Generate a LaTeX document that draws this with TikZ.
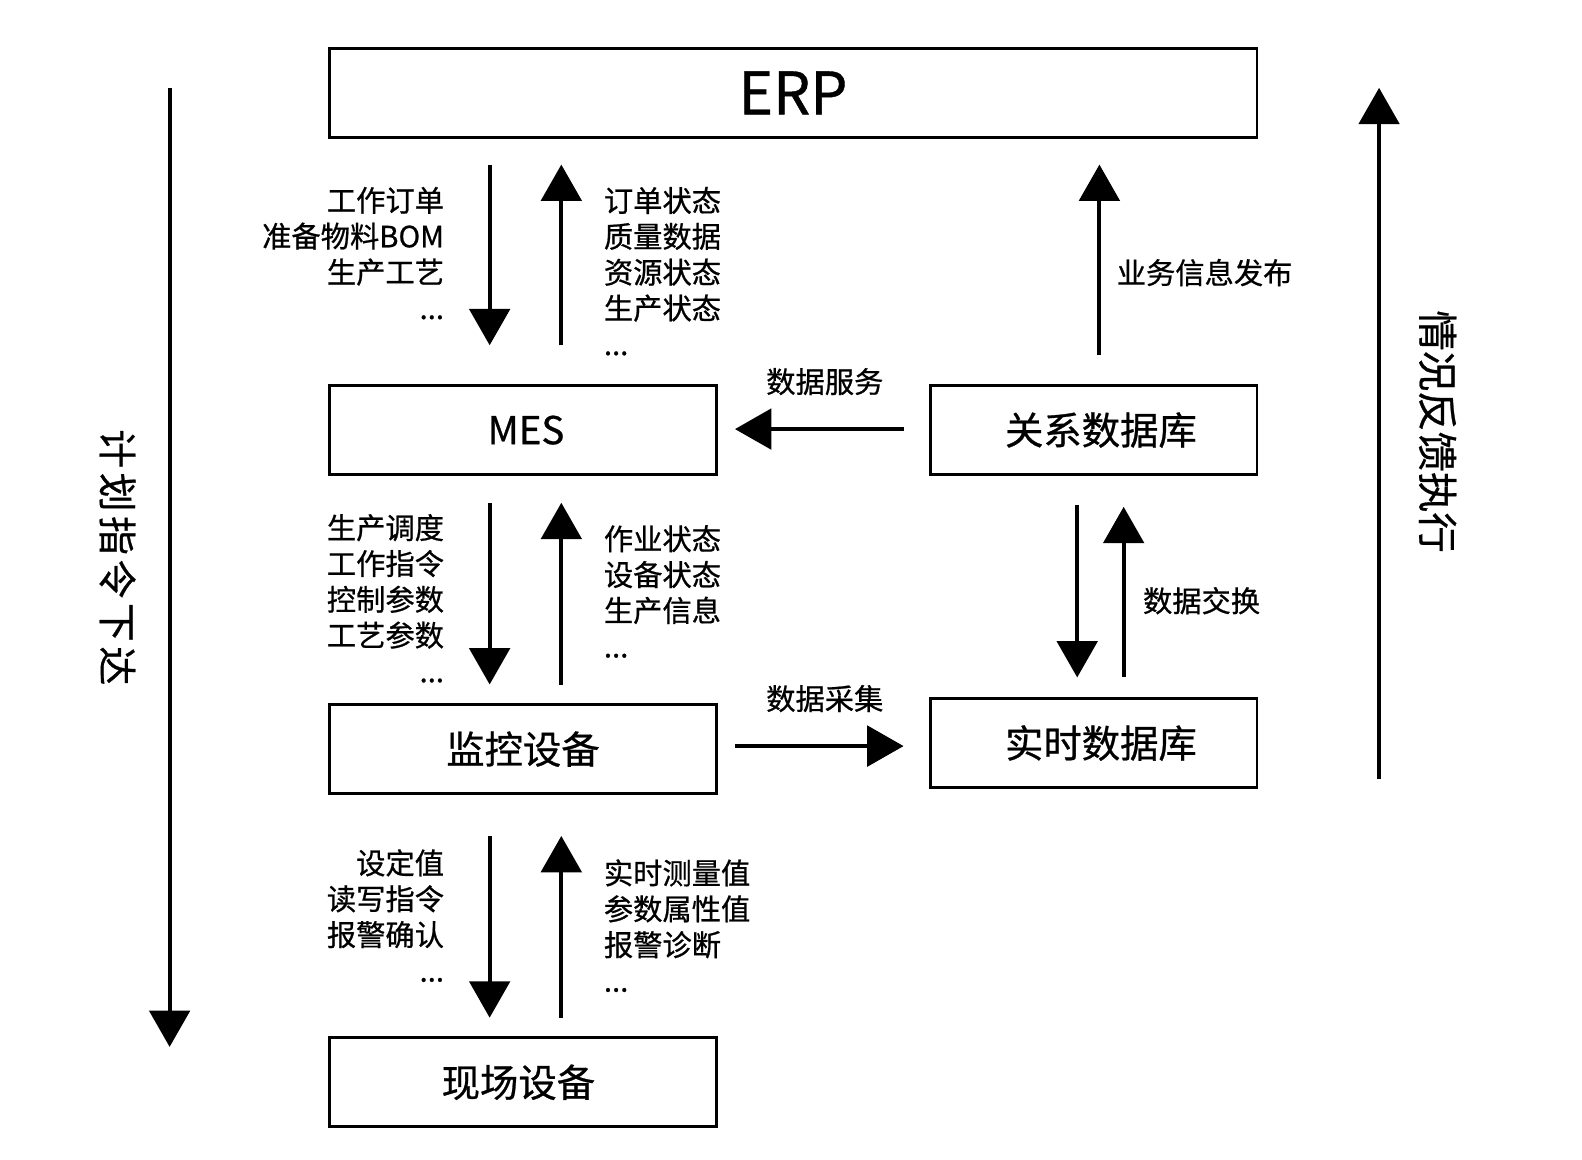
\documentclass[tikz,border=0pt]{standalone}
\usepackage{fontspec}
\setmainfont{Noto Sans CJK SC}[FakeBold=0.7]
\usetikzlibrary{arrows.meta}
\begin{document}
\begin{tikzpicture}[x=1pt,y=-1pt,
  box/.style={draw, line width=2.8pt, minimum height=88pt, inner sep=0pt, font=\fontsize{38}{38}\selectfont},
  flow/.style={line width=4pt, -{Triangle[width=40pt,length=36pt]}},
  lbl/.style={font=\fontsize{29}{35.5}\selectfont, inner sep=0pt},
  side/.style={font=\fontsize{40}{40}\selectfont, inner sep=0pt, rotate=-90}]
\useasboundingbox (0,0) rectangle (1567,1149);
% boxes
\node[box, minimum width=919pt, font=\fontsize{58}{58}\selectfont] (erp) at (785.5,92) {ERP};
\node[box, minimum width=384pt] (mes) at (518,426) {\hspace*{6pt}MES};
\node[box, minimum width=384pt] (mon) at (518,742) {监控设备};
\node[box, minimum width=384pt] (field) at (518,1072) {现场设备\hspace*{9pt}};
\node[box, minimum width=323pt] (rdb) at (1083.5,426) {\hspace*{14pt}关系数据库};
\node[box, minimum width=323pt] (tdb) at (1083.5,736) {\hspace*{14pt}实时数据库};
% arrow end points
\coordinate (a1s) at (485,163); \coordinate (a1e) at (485,342);
\coordinate (a2s) at (556,342); \coordinate (a2e) at (556,163);
\coordinate (b1s) at (485,498); \coordinate (b1e) at (485,678);
\coordinate (b2s) at (556,678); \coordinate (b2e) at (556,498);
\coordinate (c1s) at (485,828); \coordinate (c1e) at (485,1008);
\coordinate (c2s) at (556,1008); \coordinate (c2e) at (556,828);
\coordinate (d1s) at (1089,352); \coordinate (d1e) at (1089,163);
\coordinate (e1s) at (895,425); \coordinate (e1e) at (728,425);
\coordinate (f1s) at (728,739); \coordinate (f1e) at (895,739);
\coordinate (g1s) at (1067,500); \coordinate (g1e) at (1067,671);
\coordinate (g2s) at (1113,671); \coordinate (g2e) at (1113,502);
\coordinate (Ls) at (168,87); \coordinate (Le) at (168,1037);
\coordinate (Rs) at (1366,772); \coordinate (Re) at (1366,87);
% arrows
\draw[flow] (a1s) -- (a1e);
\draw[flow] (a2s) -- (a2e);
\draw[flow] (b1s) -- (b1e);
\draw[flow] (b2s) -- (b2e);
\draw[flow] (c1s) -- (c1e);
\draw[flow] (c2s) -- (c2e);
\draw[flow] (d1s) -- (d1e);
\draw[flow] (e1s) -- (e1e);
\draw[flow] (f1s) -- (f1e);
\draw[flow] (g1s) -- (g1e);
\draw[flow] (g2s) -- (g2e);
\draw[flow] (Ls) -- (Le);
\draw[flow] (Rs) -- (Re);
% labels
\node[lbl, align=right, anchor=north east] (l1) at (440,185) {工作订单\\准备物料BOM\\生产工艺\\...};
\node[lbl, align=left, anchor=north west] (r1) at (598,185) {订单状态\\质量数据\\资源状态\\生产状态\\...};
\node[lbl, align=right, anchor=north east] (l2) at (440,509) {生产调度\\工作指令\\控制参数\\工艺参数\\...};
\node[lbl, align=left, anchor=north west] (r2) at (598,520) {作业状态\\设备状态\\生产信息\\...};
\node[lbl, align=right, anchor=north east] (l3) at (440,841) {设定值\\读写指令\\报警确认\\...};
\node[lbl, align=left, anchor=north west] (r3) at (598,851) {实时测量值\\参数属性值\\报警诊断\\...};
\node[lbl] (s1) at (817,378) {数据服务};
\node[lbl] (s2) at (817,692) {数据采集};
\node[lbl, anchor=west] (s3) at (1106,270) {业务信息发布};
\node[lbl, anchor=west] (s4) at (1132,595) {数据交换};
\node[side, font=\fontsize{38.5}{38.5}\selectfont] (v1) at (116.4,552) {计\kern4.5pt 划\kern4.5pt 指\kern4.5pt 令\kern4.5pt 下\kern4.5pt 达};
\node[side] (v2) at (1424,427.5) {情况反馈执行};
\end{tikzpicture}
\end{document}
